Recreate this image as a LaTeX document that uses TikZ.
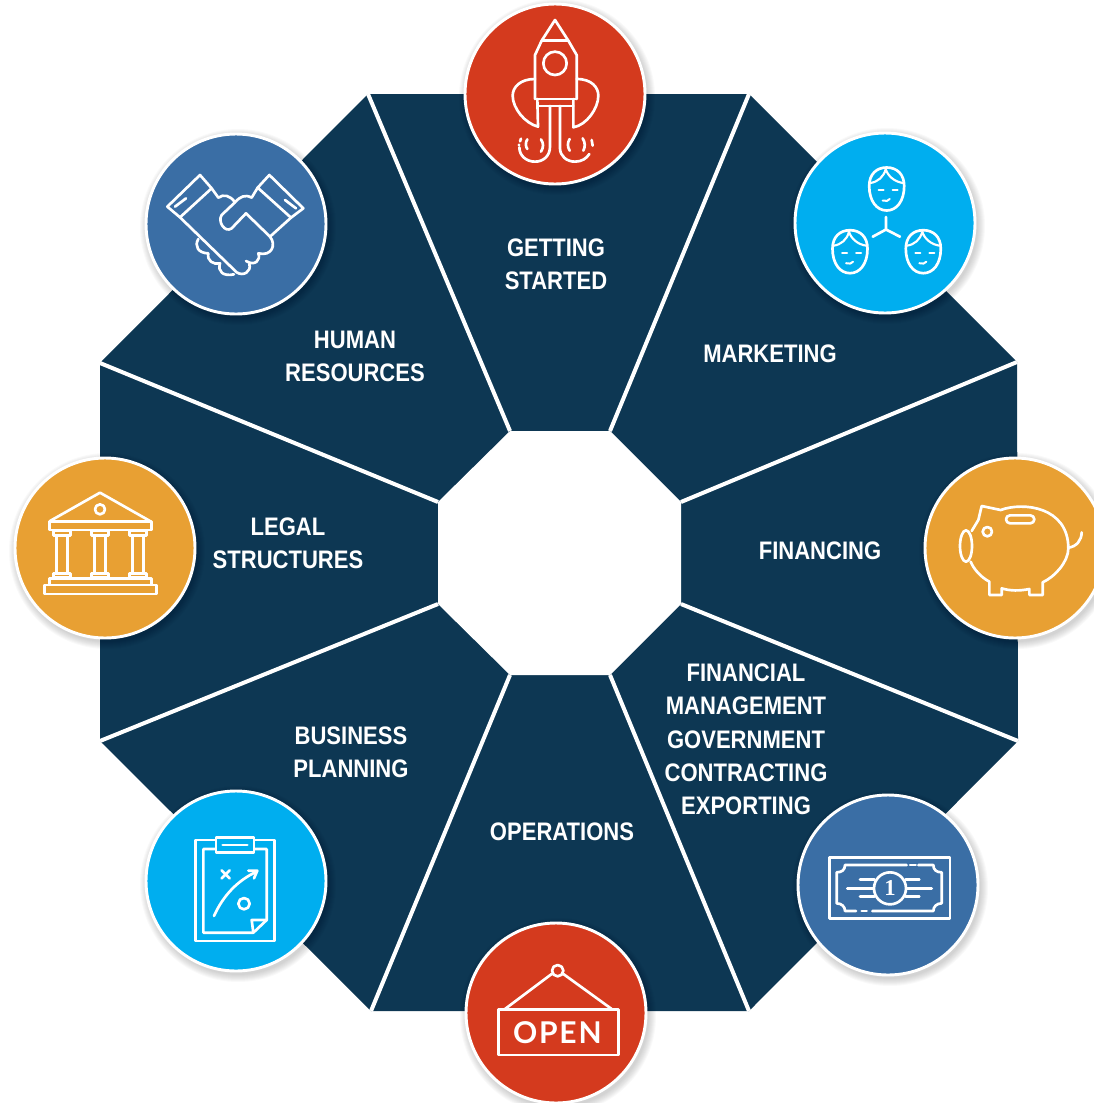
\documentclass[tikz,border=0pt]{standalone}
\usepackage{fontspec}
\setmainfont{Liberation Sans}
\newfontfamily\lblfont{Liberation Sans}[FakeStretch=0.87]
\newfontfamily\signfont{Lato}[LetterSpace=6]
\newfontfamily\billfont{Liberation Serif}
\definecolor{navy}{HTML}{0D3753}
\definecolor{brickred}{HTML}{D43A1E}
\definecolor{skyblue}{HTML}{00AEEF}
\definecolor{steel}{HTML}{3A6EA5}
\definecolor{amber}{HTML}{E8A033}
\tikzset{
  lbl/.style={text=white,align=center,inner sep=0pt,font=\lblfont\bfseries\fontsize{19}{25}\selectfont},
  badge/.style={circle,draw=white,line width=2.2pt,minimum size=135pt,inner sep=0pt},
  icon/.style={draw=white,line width=2pt,line join=round,line cap=round},
  iconzoom/.style={x=0.25pt,y=-0.25pt},
}
\newcommand{\faceicon}[2]{%
  \begin{scope}[shift={(#1,#2)},x=0.75pt,y=-0.75pt]
    \draw[icon] (-17.5,-3) .. controls (-17.5,-15) and (-10,-21.5) .. (0,-21.5) .. controls (10,-21.5) and (17.5,-15) .. (17.5,-3) .. controls (17.5,12) and (10,21.5) .. (0,21.5) .. controls (-10,21.5) and (-17.5,12) .. (-17.5,-3);
    \draw[icon,line width=1.6pt] (-16.5,-6) .. controls (-9,-7) and (-3,-12) .. (-1,-20) .. controls (1,-13) and (8,-7) .. (16.5,-6);
    \draw[icon,line width=1.5pt] (-8,1) -- (-3,1) (6,1) -- (11,1);
    \draw[icon,line width=1.5pt] (-4,11.5) .. controls (-1,12.5) and (2,12) .. (3,10);
  \end{scope}}
\begin{document}
\begin{tikzpicture}[x=0.75pt,y=-0.75pt]
\useasboundingbox (0,0) rectangle (1094,1103);
\clip (0,0) rectangle (1094,1103);
% outer ring corners
\coordinate (o1) at (368,94);
\coordinate (o2) at (749,94);
\coordinate (o3) at (1017,362);
\coordinate (o4) at (1018,741);
\coordinate (o5) at (749,1011);
\coordinate (o6) at (371,1011);
\coordinate (o7) at (100,741);
\coordinate (o8) at (100,363);
% inner ring corners
\coordinate (i1) at (510,431);
\coordinate (i2) at (610,431);
\coordinate (i3) at (681,502);
\coordinate (i4) at (681,604);
\coordinate (i5) at (610,675);
\coordinate (i6) at (510,675);
\coordinate (i7) at (438,604);
\coordinate (i8) at (438,502);
\fill[navy] (o1) -- (o2) -- (o3) -- (o4) -- (o5) -- (o6) -- (o7) -- (o8) -- cycle;
\foreach \k in {1,...,8} \draw[white,line width=3pt] (o\k) -- (i\k);
\fill[white] (i1) -- (i2) -- (i3) -- (i4) -- (i5) -- (i6) -- (i7) -- (i8) -- cycle;
% labels
\node[lbl] (tstart) at (556,264.5) {GETTING\\STARTED};
\node[lbl] (tmark) at (770,354) {MARKETING};
\node[lbl] (thuman) at (355,356.5) {HUMAN\\RESOURCES};
\node[lbl] (tlegal) at (288,543.5) {LEGAL\\STRUCTURES};
\node[lbl] (tfin) at (820,551) {FINANCING};
\node[lbl] (tgov) at (746,739.5) {FINANCIAL\\MANAGEMENT\\GOVERNMENT\\CONTRACTING\\EXPORTING};
\node[lbl] (tbiz) at (351,752) {BUSINESS\\PLANNING};
\node[lbl] (tops) at (562,832) {OPERATIONS};
% badges with soft shadows
\foreach \n/\cx/\cy/\col in {bstart/555/94/brickred,bmark/885/223/skyblue,bhuman/236/224/steel,blegal/105/548/amber,bfin/1015/548/amber,bbiz/236/881/skyblue,bopen/556/1013/brickred,bmoney/888/885/steel}{
  \foreach \r in {98,97,96,95,94,93,92,91}
    \fill[black,opacity=0.022] (\cx+2,\cy+3) circle[radius=\r];
  \node[badge,fill=\col] (\n) at (\cx,\cy) {};
}
% rocket
\begin{scope}[shift={(440,0)},iconzoom]
  \draw[icon] (285,297) -- (285,165) -- (305,122) -- (345,60) -- (385,122) -- (410,165) -- (410,297);
  \draw[icon] (305,122) -- (385,122);
  \draw[icon] (345,190) circle[radius=35];
  \draw[icon] (287,297) -- (408,297) (292,318) -- (400,318);
  \draw[icon] (285,237) .. controls (240,237) and (218,262) .. (218,287) .. controls (218,325) and (255,370) .. (294,380) -- (292,297);
  \draw[icon] (410,237) .. controls (455,237) and (475,262) .. (475,287) .. controls (475,325) and (440,375) .. (400,382) -- (400,297);
  \draw[icon] (330,318) -- (330,440) .. controls (330,468) and (310,485) .. (285,485) .. controls (260,485) and (238,468) .. (238,442);
  \draw[icon] (360,318) -- (360,445) .. controls (360,468) and (380,485) .. (405,485) .. controls (425,485) and (440,475) .. (448,462);
  \draw[icon] (262,418) .. controls (256,428) and (256,438) .. (262,447);
  \draw[icon] (303,418) .. controls (311,430) and (311,442) .. (303,455);
  \draw[icon] (389,417) .. controls (382,428) and (382,440) .. (389,452);
  \draw[icon] (428,415) .. controls (436,428) and (436,440) .. (430,452);
  \draw[icon] (243,416) -- (240,424) (237,434) -- (237,436);
  \draw[icon] (455,420) -- (458,437);
\end{scope}
% people
\faceicon{886.7}{189}
\faceicon{850}{251.7}
\faceicon{923.3}{251.7}
\coordinate (hub) at (886,229.5);
\coordinate (hubtop) at (886,217);
\coordinate (hubleft) at (872.7,236.7);
\coordinate (hubright) at (900,236.7);
\draw[icon] (hubtop) -- (hub) (hubleft) -- (hub) -- (hubright);
% handshake
\begin{scope}[shift={(130,120)},iconzoom]
  \draw[icon] (210,165) -- (245,205) -- (150,292) -- (112,260) -- cycle;
  \draw[icon] (135,260) -- (168,235);
  \draw[icon] (418,165) -- (383,203) -- (483,293) -- (520,265) -- cycle;
  \draw[icon] (465,240) -- (498,265);
  \draw[icon] (245,205) -- (265,233) .. controls (280,222) and (300,225) .. (315,247);
  \draw[icon] (383,203) -- (365,233) .. controls (345,222) and (330,230) .. (315,247) -- (275,285) .. controls (262,305) and (285,340) .. (305,325) -- (348,280) -- (420,350) .. controls (440,375) and (425,410) .. (385,400) .. controls (393,420) and (375,440) .. (348,423);
  \draw[icon] (358,432) .. controls (365,455) and (340,470) .. (320,457) -- (150,292);
  \draw[icon] (483,293) -- (420,350);
  \draw[icon] (205,357) .. controls (192,378) and (205,400) .. (235,400) .. controls (230,422) and (250,435) .. (270,430) .. controls (262,455) and (280,470) .. (312,463);
\end{scope}
% bank
\begin{scope}[shift={(0,445)},iconzoom]
  \draw[icon] (150,228) -- (300,143) -- (450,228);
  \draw[icon] (148,230) rectangle (455,255);
  \draw[icon] (300,193) circle[radius=15];
  \foreach \c in {186,300,414}{
    \draw[icon] (\c-26,258) rectangle (\c+26,272);
    \draw[icon] (\c-16,272) -- (\c-16,385) (\c+16,272) -- (\c+16,385);
    \draw[icon] (\c-26,385) rectangle (\c+26,398);
  }
  \draw[icon] (148,400) rectangle (455,420);
  \draw[icon] (133,420) rectangle (470,447);
\end{scope}
% piggy bank
\begin{scope}[shift={(910,445)},iconzoom]
  \draw[icon] (185,258) -- (205,225) -- (215,183) -- (272,195) .. controls (340,170) and (475,185) .. (475,310) .. controls (475,350) and (435,395) .. (398,412) -- (398,450) -- (358,450) -- (358,432) .. controls (330,438) and (300,438) .. (275,430) -- (275,450) -- (238,450) -- (238,410) .. controls (210,395) and (190,370) .. (182,350);
  \draw[icon] (168,303) ellipse[x radius=18,y radius=47];
  \draw[icon] (232,260) circle[radius=14];
  \draw[icon,rounded corners=3pt] (288,211) rectangle (373,235);
  \draw[icon] (475,308) .. controls (500,305) and (515,285) .. (515,262);
\end{scope}
% clipboard
\begin{scope}[shift={(130,780)},iconzoom]
  \draw[icon] (197,180) rectangle (433,483);
  \draw[icon] (370,458) -- (220,458) -- (220,207) -- (410,207) -- (410,420) -- cycle;
  \draw[icon] (410,420) -- (365,420) -- (370,458);
  \draw[icon,fill=skyblue] (258,172) rectangle (372,217);
  \draw[icon] (278,195) -- (352,195);
  \draw[icon] (275,271) -- (299,295) (299,271) -- (275,295);
  \draw[icon] (342,371) circle[radius=17];
  \draw[icon] (252,408) .. controls (280,345) and (325,300) .. (380,275);
  \draw[icon] (355,272) -- (382,272) -- (372,295);
\end{scope}
% open sign
\begin{scope}[shift={(450,910)},iconzoom]
  \draw[icon] (323,182) circle[radius=17];
  \draw[icon] (305,192) -- (165,297) (340,192) -- (485,297);
  \draw[icon] (145,298) rectangle (505,435);
  \node[inner sep=0pt,text=white,font=\signfont\bfseries\fontsize{22.5}{22.5}\selectfont] (opentxt) at (322,368) {OPEN};
\end{scope}
% banknote
\begin{scope}[shift={(785,785)},iconzoom]
  \draw[icon] (133,218) rectangle (495,400);
  \draw[icon] (365,240) -- (180,240) .. controls (180,255) and (170,262) .. (155,262) -- (155,355) .. controls (170,355) and (180,365) .. (180,378) -- (213,378);
  \draw[icon] (230,378) -- (245,378);
  \draw[icon] (262,378) -- (445,378) .. controls (445,365) and (455,355) .. (470,355) -- (470,262) .. controls (455,262) and (445,255) .. (445,240) -- (400,240);
  \draw[icon] (375,240) -- (392,240);
  \node[circle,icon,minimum size=24pt,inner sep=0pt,text=white,font=\billfont\bfseries\fontsize{17}{17}\selectfont] (onecoin) at (315,310) {1};
  \draw[icon] (225,283) -- (268,283) (187,310) -- (265,310) (225,335) -- (268,335);
  \draw[icon] (362,283) -- (403,283) (365,310) -- (440,310) (362,335) -- (403,335);
\end{scope}
\end{tikzpicture}
\end{document}
